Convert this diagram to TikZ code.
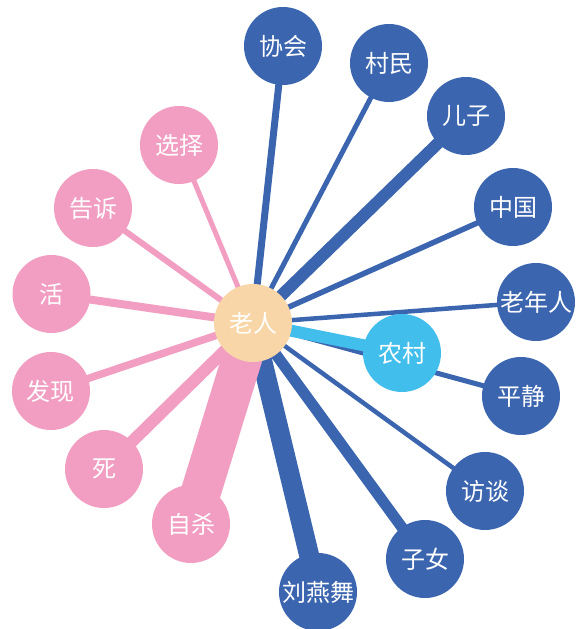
\documentclass[tikz,border=0pt]{standalone}
\usepackage{fontspec}
\newfontfamily\cjk{Noto Sans CJK SC}
\usetikzlibrary{backgrounds}
\definecolor{dblue}{RGB}{59,101,175}
\definecolor{lblue}{RGB}{66,190,236}
\definecolor{pinkc}{RGB}{241,158,194}
\definecolor{peach}{RGB}{248,214,167}
\begin{document}
\begin{tikzpicture}[x=1pt,y=-1pt,
  word/.style={circle,minimum size=78pt,inner sep=0pt,text=white,
    font=\cjk\fontsize{24}{24}\selectfont},
  bnode/.style={word,fill=dblue},
  pnode/.style={word,fill=pinkc},
  lnode/.style={word,fill=lblue},
  cnode/.style={word,fill=peach},
  blink/.style={draw=dblue,line cap=butt},
  plink/.style={draw=pinkc,line cap=butt},
  llink/.style={draw=lblue,line cap=butt}]
\useasboundingbox (0,0) rectangle (584,629);
% nodes
\node[cnode] (laoren) at (253,323) {老人};
\node[bnode] (xiehui) at (283,46) {协会};
\node[bnode] (cunmin) at (389,63) {村民};
\node[bnode] (erzi) at (466,116) {儿子};
\node[bnode] (zhongguo) at (513,207) {中国};
\node[bnode] (laonianren) at (536,302) {老年人};
\node[lnode] (nongcun) at (402,353) {农村};
\node[bnode] (pingjing) at (521,396) {平静};
\node[bnode] (fangtan) at (485,491) {访谈};
\node[bnode] (zinv) at (425,559) {子女};
\node[bnode] (liu) at (318,592) {刘燕舞};
\node[pnode] (xuanze) at (179,145) {选择};
\node[pnode] (gaosu) at (93,208) {告诉};
\node[pnode] (huo) at (51.5,294) {活};
\node[pnode] (faxian) at (51,391) {发现};
\node[pnode] (si) at (104,469) {死};
\node[pnode] (zisha) at (191,524) {自杀};
% edges
\begin{scope}[on background layer]
\draw[blink,line width=7pt] (laoren.center) -- (xiehui.center);
\draw[blink,line width=5pt] (laoren.center) -- (cunmin.center);
\draw[blink,line width=12pt] (laoren.center) -- (erzi.center);
\draw[blink,line width=5.5pt] (laoren.center) -- (zhongguo.center);
\draw[blink,line width=4.5pt] (laoren.center) -- (laonianren.center);
\draw[blink,line width=5pt] (laoren.center) -- (pingjing.center);
\draw[blink,line width=4.5pt] (laoren.center) -- (fangtan.center);
\draw[blink,line width=11pt] (laoren.center) -- (zinv.center);
\draw[blink,line width=20pt] (laoren.center) -- (liu.center);
\draw[plink,line width=5pt] (laoren.center) -- (xuanze.center);
\draw[plink,line width=6pt] (laoren.center) -- (gaosu.center);
\draw[plink,line width=8pt] (laoren.center) -- (huo.center);
\draw[plink,line width=7.5pt] (laoren.center) -- (faxian.center);
\draw[plink,line width=12pt] (laoren.center) -- (si.center);
\draw[plink,line width=40pt] (laoren.center) -- (zisha.center);
\draw[llink,line width=12pt] (laoren.center) -- (nongcun.center);
\end{scope}
\end{tikzpicture}
\end{document}
